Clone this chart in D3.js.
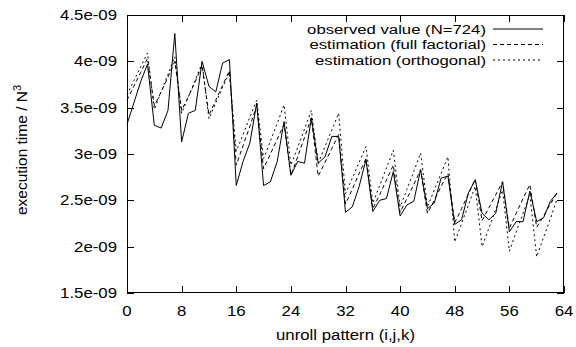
<!DOCTYPE html>
<html>
<head>
<meta charset="utf-8">
<script src="https://cdn.jsdelivr.net/npm/d3@7"></script>
<style>
  html, body { margin: 0; padding: 0; background: #fff; }
  svg { display: block; }
  text { font-family: "Liberation Sans", Arial, Helvetica, sans-serif; fill: #000; }
</style>
</head>
<body>
<svg id="chart" width="576" height="347"></svg>
<script>
// Values are in units of 1e-09 (execution time / N^3)
const observed = [
  3.32, 3.55, 3.78, 3.97, 3.31, 3.28, 3.47, 4.30, 3.13, 3.44, 3.47, 4.00, 3.73, 3.67, 3.98, 4.02,
  2.66, 2.92, 3.12, 3.55, 2.66, 2.70, 2.92, 3.35, 2.77, 2.92, 2.90, 3.39, 2.90, 2.97, 3.19, 3.19,
  2.37, 2.43, 2.65, 2.94, 2.38, 2.50, 2.52, 2.81, 2.33, 2.45, 2.49, 2.83, 2.41, 2.47, 2.74, 2.76,
  2.24, 2.29, 2.58, 2.72, 2.36, 2.29, 2.36, 2.70, 2.16, 2.27, 2.27, 2.60, 2.27, 2.31, 2.49, 2.58
];
const fullFactorial = [
  3.58, 3.73, 3.88, 4.03, 3.52, 3.67, 3.83, 4.00, 3.47, 3.62, 3.78, 3.96, 3.42, 3.58, 3.74, 3.90,
  2.88, 3.09, 3.30, 3.52, 2.84, 3.00, 3.16, 3.32, 2.77, 2.97, 3.18, 3.39, 2.76, 2.91, 3.06, 3.21,
  2.46, 2.62, 2.79, 2.95, 2.41, 2.56, 2.72, 2.88, 2.37, 2.52, 2.67, 2.83, 2.36, 2.50, 2.65, 2.79,
  2.26, 2.41, 2.57, 2.73, 2.28, 2.42, 2.56, 2.70, 2.20, 2.36, 2.52, 2.67, 2.21, 2.33, 2.46, 2.58
];
const orthogonal = [
  3.64, 3.79, 3.94, 4.09, 3.48, 3.67, 3.86, 4.05, 3.44, 3.62, 3.80, 3.98, 3.38, 3.55, 3.72, 3.88,
  3.03, 3.21, 3.40, 3.58, 2.95, 3.14, 3.33, 3.53, 2.88, 3.07, 3.27, 3.47, 2.90, 3.08, 3.26, 3.44,
  2.57, 2.74, 2.91, 3.08, 2.47, 2.66, 2.85, 3.04, 2.43, 2.62, 2.81, 3.01, 2.43, 2.61, 2.79, 2.97,
  2.05, 2.25, 2.45, 2.65, 2.00, 2.20, 2.40, 2.61, 1.95, 2.16, 2.36, 2.56, 1.89, 2.10, 2.30, 2.52
];
const xTicks = [0, 8, 16, 24, 32, 40, 48, 56, 64];
const yTicks = [1.5, 2.0, 2.5, 3.0, 3.5, 4.0, 4.5];
const yTickLabels = ["1.5e-09", "2e-09", "2.5e-09", "3e-09", "3.5e-09", "4e-09", "4.5e-09"];
const seriesNames = ["observed value (N=724)", "estimation (full factorial)", "estimation (orthogonal)"];

const svg = d3.select("#chart");
const L = 127, R = 564, T = 15, B = 293;
const x = d3.scaleLinear().domain([0, 64]).range([L, R]);
const y = d3.scaleLinear().domain([1.5, 4.5]).range([B, T]);
const FS = 15, SX = 1.12, TICK = 7;

function stretchedText(g, tx, ty, s, anchor, fs, sx) {
  return g.append("text")
    .attr("transform", `translate(${tx},${ty}) scale(${sx || SX},1)`)
    .attr("text-anchor", anchor)
    .attr("font-size", fs || FS)
    .text(s);
}

const series = [
  { data: observed, dash: null },
  { data: fullFactorial, dash: "4,3" },
  { data: orthogonal, dash: "2,3" }
];

const line = d3.line().x((d, i) => x(i)).y(d => y(d));

series.forEach(s => {
  svg.append("path")
    .datum(s.data)
    .attr("d", line)
    .attr("fill", "none")
    .attr("stroke", "#000")
    .attr("stroke-width", 1)
    .attr("stroke-dasharray", s.dash);
});

// Frame
svg.append("rect")
  .attr("x", L + 0.5).attr("y", T + 0.5)
  .attr("width", R - L - 1).attr("height", B - T - 1)
  .attr("fill", "none").attr("stroke", "#000").attr("stroke-width", 1);

// Ticks (inward, mirrored)
const tg = svg.append("g").attr("stroke", "#000").attr("stroke-width", 1);
xTicks.forEach(v => {
  const px = Math.round(x(v)) + 0.5;
  tg.append("line").attr("x1", px).attr("x2", px).attr("y1", B).attr("y2", B - TICK);
  tg.append("line").attr("x1", px).attr("x2", px).attr("y1", T).attr("y2", T + TICK);
});
yTicks.forEach(v => {
  const py = Math.round(y(v)) + 0.5;
  tg.append("line").attr("x1", L).attr("x2", L + TICK).attr("y1", py).attr("y2", py);
  tg.append("line").attr("x1", R).attr("x2", R - TICK).attr("y1", py).attr("y2", py);
});

// Tick labels
const lg = svg.append("g");
xTicks.forEach(v => stretchedText(lg, x(v), 316, String(v), "middle"));
yTicks.forEach((v, i) => stretchedText(lg, 117, y(v) + 5, yTickLabels[i], "end"));

// Axis titles
stretchedText(svg, (L + R) / 2, 340, "unroll pattern (i,j,k)", "middle");
const yl = svg.append("text")
  .attr("transform", "translate(27,150) rotate(-90)")
  .attr("text-anchor", "middle")
  .attr("font-size", 15.5);
yl.append("tspan").text("execution time / N");
yl.append("tspan").attr("font-size", 11).attr("dy", -6).text("3");

// Legend
const legY = [29, 44.5, 60];
series.forEach((s, i) => {
  stretchedText(svg, 486, legY[i] + 4.5, seriesNames[i], "end", 13.5, 1.24);
  svg.append("line")
    .attr("x1", 493).attr("x2", 543)
    .attr("y1", legY[i]).attr("y2", legY[i])
    .attr("stroke", "#000").attr("stroke-width", 1)
    .attr("stroke-dasharray", s.dash);
});
</script>
</body>
</html>
